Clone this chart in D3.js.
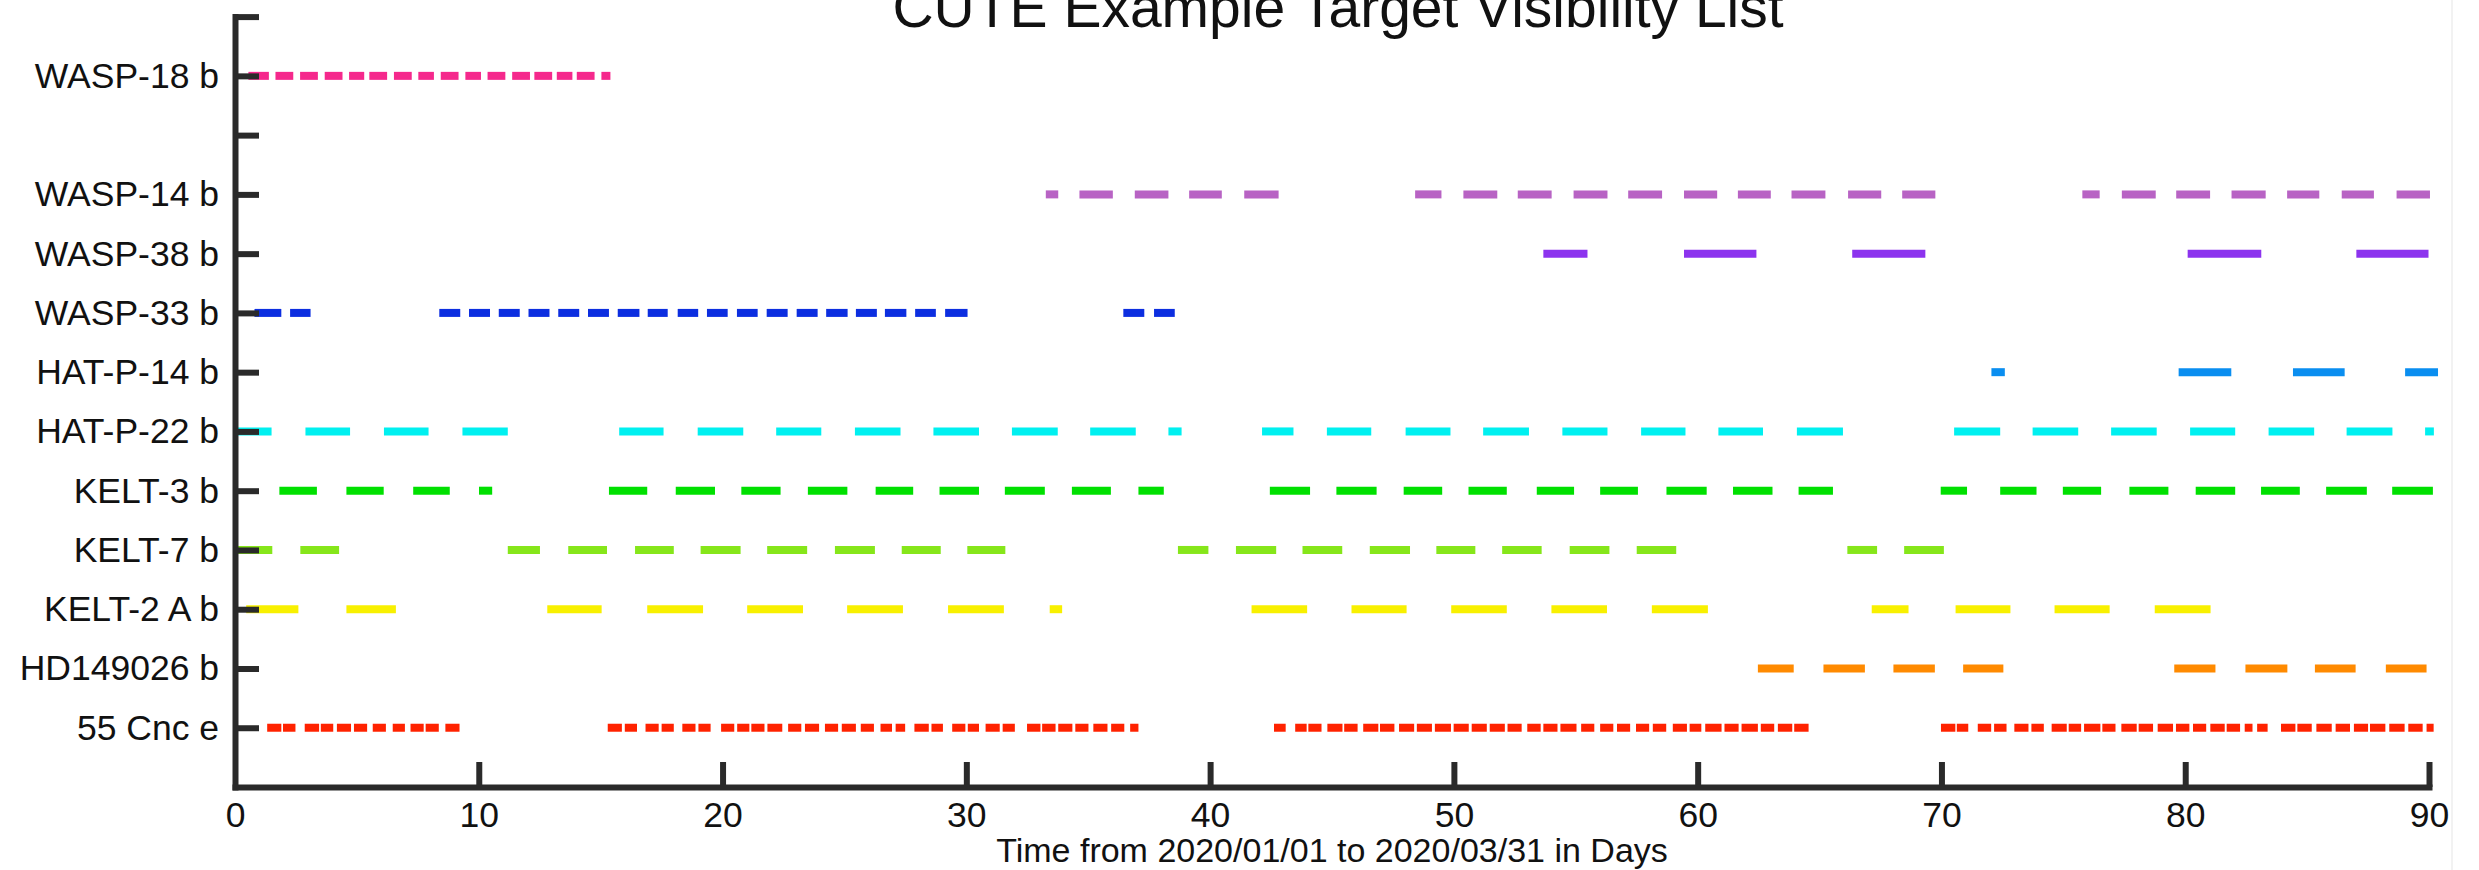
<!DOCTYPE html>
<html>
<head>
<meta charset="utf-8">
<script src="https://cdn.jsdelivr.net/npm/d3@7"></script>
<style>
  html, body { margin: 0; padding: 0; background: #fff; }
  svg text { font-family: "Liberation Sans", Arial, Helvetica, sans-serif; fill: #111; }
</style>
</head>
<body>
<div id="chart"></div>
<script>
// rows from bottom (1) to top (13); empty strings are unlabeled ticks
var rowLabels = ["55 Cnc e", "HD149026 b", "KELT-2 A b", "KELT-7 b", "KELT-3 b", "HAT-P-22 b",
                 "HAT-P-14 b", "WASP-33 b", "WASP-38 b", "WASP-14 b", "", "WASP-18 b", ""];
var xTicks = [0, 10, 20, 30, 40, 50, 60, 70, 80, 90];

// visibility windows in days, one [start, end] pair per dash
var wasp18b = [[0.55,1.39],[1.66,2.39],[2.67,3.40],[3.68,4.41],[4.68,5.30],[5.51,6.24],[6.52,7.25],[7.52,8.16],
  [8.44,9.17],[9.45,10.09],[10.36,11.09],[11.37,12.10],[12.28,13.01],[13.20,13.84],[14.02,14.75],[15.03,15.40]];
var wasp14b = [[33.26,33.77],[34.64,36.01],[36.91,38.29],[39.14,40.48],[41.40,42.81],[48.41,49.49],[50.39,51.78],
  [52.62,54.01],[54.91,56.30],[57.15,58.54],[59.44,60.80],[61.65,63.00],[63.85,65.24],[66.17,67.53],[68.39,69.75],
  [75.78,76.49],[77.40,78.79],[79.63,81.02],[81.90,83.30],[84.18,85.50],[86.42,87.74],[88.67,90.04]];
var wasp38b = [[53.67,55.48],[59.44,62.41],[66.34,69.34],[80.10,83.12],[87.02,89.98]];
var wasp33b = [[0.80,1.90],[2.26,3.10],[8.38,9.24],[9.60,10.46],[10.82,11.68],[12.04,12.90],[13.26,14.12],[14.48,15.34],
  [15.70,16.59],[16.93,17.75],[18.16,19.00],[19.36,20.21],[20.59,21.44],[21.81,22.67],[23.04,23.90],[24.25,25.13],
  [25.47,26.33],[26.66,27.54],[27.90,28.75],[29.13,30.05],[36.44,37.30],[37.70,38.55]];
var hatp14b = [[72.05,72.60],[79.73,81.89],[84.42,86.54],[89.02,90.37]];
var hatp22b = [[0.00,1.50],[2.89,4.72],[6.11,7.94],[9.33,11.19],[15.76,17.58],[18.98,20.85],[22.20,24.05],[25.43,27.30],
  [28.65,30.52],[31.87,33.75],[35.08,36.95],[38.29,38.83],[42.13,43.42],[44.79,46.61],[48.02,49.86],[51.20,53.08],
  [54.45,56.30],[57.68,59.50],[60.85,62.68],[64.07,65.96],[70.52,72.41],[73.74,75.61],[76.96,78.83],[80.20,82.05],
  [83.42,85.29],[86.62,88.50],[89.84,90.20]];
var kelt3b = [[1.82,3.36],[4.57,6.10],[7.31,8.81],[10.01,10.55],[15.34,16.91],[18.08,19.69],[20.77,22.38],[23.50,25.12],
  [26.28,27.82],[28.90,30.52],[31.58,33.22],[34.33,35.93],[37.06,38.10],[42.45,44.10],[45.18,46.83],[47.94,49.52],
  [50.60,52.17],[53.40,54.93],[56.00,57.55],[58.72,60.37],[61.45,63.07],[64.14,65.55],[69.97,71.05],[72.41,73.90],
  [74.98,76.55],[77.71,79.31],[80.43,82.05],[83.11,84.70],[85.78,87.45],[88.49,90.16]];
var kelt7b = [[0.00,1.53],[2.68,4.27],[11.19,12.51],[13.67,15.26],[16.41,18.00],[19.10,20.74],[21.83,23.47],[24.61,26.25],
  [27.35,28.95],[30.04,31.60],[38.68,39.93],[41.06,42.71],[43.79,45.42],[46.55,48.20],[49.28,50.88],[51.98,53.60],
  [54.75,56.38],[57.50,59.12],[66.14,67.36],[68.47,70.10]];
var kelt2ab = [[0.46,2.60],[4.57,6.60],[12.81,15.04],[16.91,19.20],[21.01,23.30],[25.11,27.40],[29.25,31.54],[33.42,33.93],
  [41.70,43.98],[45.80,48.06],[49.89,52.17],[54.00,56.28],[58.12,60.42],[67.14,68.65],[70.58,72.83],[74.64,76.90],
  [78.75,81.04]];
var hd149026b = [[62.47,63.94],[65.16,66.86],[68.03,69.73],[70.89,72.54],[79.55,81.24],[82.47,84.19],[85.32,86.99],[88.23,89.90]];
var cnc55e = [[1.32,1.90],[1.97,2.48],[2.86,3.45],[3.52,4.03],[4.18,4.76],[4.88,5.42],[5.65,6.19],[6.47,6.97],[7.20,7.74],
  [7.82,8.36],[8.63,9.21],
  [15.29,15.87],[15.99,16.49],[16.84,17.38],[17.50,18.00],[18.35,18.89],[19.01,19.51],[19.94,20.48],[20.60,21.10],
  [21.18,21.72],[21.84,22.45],[22.69,23.23],[23.38,23.96],[24.20,24.74],[24.89,25.47],[25.67,26.21],[26.48,26.95],
  [27.10,27.49],[27.87,28.46],[28.57,29.04],[29.42,29.96],[30.06,30.52],[30.79,31.37],[31.49,31.99],[32.49,33.04],
  [33.11,33.66],[33.77,34.35],[34.47,35.01],[35.21,35.79],[35.94,36.48],[36.72,37.06],
  [42.62,43.10],[43.49,43.96],[44.03,44.57],[44.81,45.43],[45.50,46.05],[46.28,46.90],[46.97,47.56],[47.75,48.37],
  [48.48,49.10],[49.22,49.88],[49.99,50.61],[50.73,51.35],[51.47,52.09],[52.20,52.78],[53.01,53.56],[53.67,54.25],
  [54.37,55.03],[55.22,55.76],[56.00,56.54],[56.69,57.23],[57.47,58.01],[58.16,58.71],[58.98,59.56],[59.67,60.15],
  [60.31,60.98],[61.10,61.68],[61.80,62.47],[62.59,63.14],[63.29,63.88],[63.96,64.55],
  [69.98,70.57],[70.63,71.10],[71.49,72.04],[72.16,72.67],[72.99,73.57],[73.69,74.20],[74.52,75.14],[75.22,75.73],
  [75.85,76.52],[76.60,77.14],[77.38,78.01],[78.09,78.68],[78.87,79.50],[79.62,80.17],[80.32,80.86],[81.03,81.62],
  [81.70,82.25],[82.44,82.76],[82.95,83.38],[83.93,84.52],[84.60,85.19],[85.38,86.01],[86.17,86.76],[86.92,87.50],
  [87.58,88.21],[88.37,89.00],[89.15,89.74],[89.90,90.19]];

// which row each target sits on, and its colour
var targets = [
  {row: 12, dashes: wasp18b,  color: "#f5288c"},
  {row: 10, dashes: wasp14b,  color: "#b863c4"},
  {row: 9,  dashes: wasp38b,  color: "#8c33ee"},
  {row: 8,  dashes: wasp33b,  color: "#0c2ee0"},
  {row: 7,  dashes: hatp14b,  color: "#0a8ef0"},
  {row: 6,  dashes: hatp22b,  color: "#00f0f0"},
  {row: 5,  dashes: kelt3b,   color: "#00e000"},
  {row: 4,  dashes: kelt7b,   color: "#86e61a"},
  {row: 3,  dashes: kelt2ab,  color: "#f8f000"},
  {row: 2,  dashes: hd149026b, color: "#ff8a00"},
  {row: 1,  dashes: cnc55e,   color: "#ff2200"}
];

var width = 2479, height = 870;

var svg = d3.select("#chart").append("svg")
    .attr("width", width)
    .attr("height", height);

var x = d3.scaleLinear().domain([0, 90]).range([235, 2429]);
var y = d3.scaleLinear().domain([0, 13]).range([787, 16.6]);

// the dashes
var rows = svg.append("g").selectAll("g")
    .data(targets)
  .enter().append("g")
    .attr("stroke", function(d) { return d.color; });

rows.selectAll("line")
    .data(function(d) { return d.dashes.map(function(s) { return {s: s, row: d.row}; }); })
  .enter().append("line")
    .attr("x1", function(d) { return x(d.s[0]); })
    .attr("x2", function(d) { return x(d.s[1]); })
    .attr("y1", function(d) { return y(d.row); })
    .attr("y2", function(d) { return y(d.row); })
    .attr("stroke-width", 8)
    .attr("stroke-linecap", "butt");

// axes on top, ticks pointing inward
var yAxis = d3.axisLeft(y)
    .tickValues(d3.range(1, 14))
    .tickFormat(function(d) { return rowLabels[d - 1]; })
    .tickSize(-24)
    .tickSizeOuter(0)
    .tickPadding(16);

var xAxis = d3.axisBottom(x)
    .tickValues(xTicks)
    .tickFormat(d3.format("d"))
    .tickSize(-25)
    .tickSizeOuter(0)
    .tickPadding(15);

var gx = svg.append("g").attr("transform", "translate(0," + y(0) + ")").call(xAxis);
var gy = svg.append("g").attr("transform", "translate(" + x(0) + ",0)").call(yAxis);

[gx, gy].forEach(function(g) {
  g.select(".domain").attr("stroke", "#2a2a2a").attr("stroke-width", 6).attr("stroke-linecap", "square");
  g.selectAll(".tick line").attr("stroke", "#2a2a2a").attr("stroke-width", 6);
  g.selectAll(".tick text").attr("font-size", 35.5).attr("fill", "#111");
});
gx.selectAll(".tick").filter(function(d) { return d === 0; }).select("line").remove();

// title, cut at the top edge as in the original
svg.append("text")
    .attr("x", 1338)
    .attr("y", 27)
    .attr("text-anchor", "middle")
    .attr("font-size", 57)
    .text("CUTE Example Target Visibility List");

svg.append("text")
    .attr("x", (x(0) + x(90)) / 2)
    .attr("y", 862)
    .attr("text-anchor", "middle")
    .attr("font-size", 34)
    .text("Time from 2020/01/01 to 2020/03/31 in Days");

// faint edge of the original figure
svg.append("line")
    .attr("x1", 2452).attr("x2", 2452)
    .attr("y1", 0).attr("y2", height)
    .attr("stroke", "#f2f2f2")
    .attr("stroke-width", 2);
</script>
</body>
</html>
